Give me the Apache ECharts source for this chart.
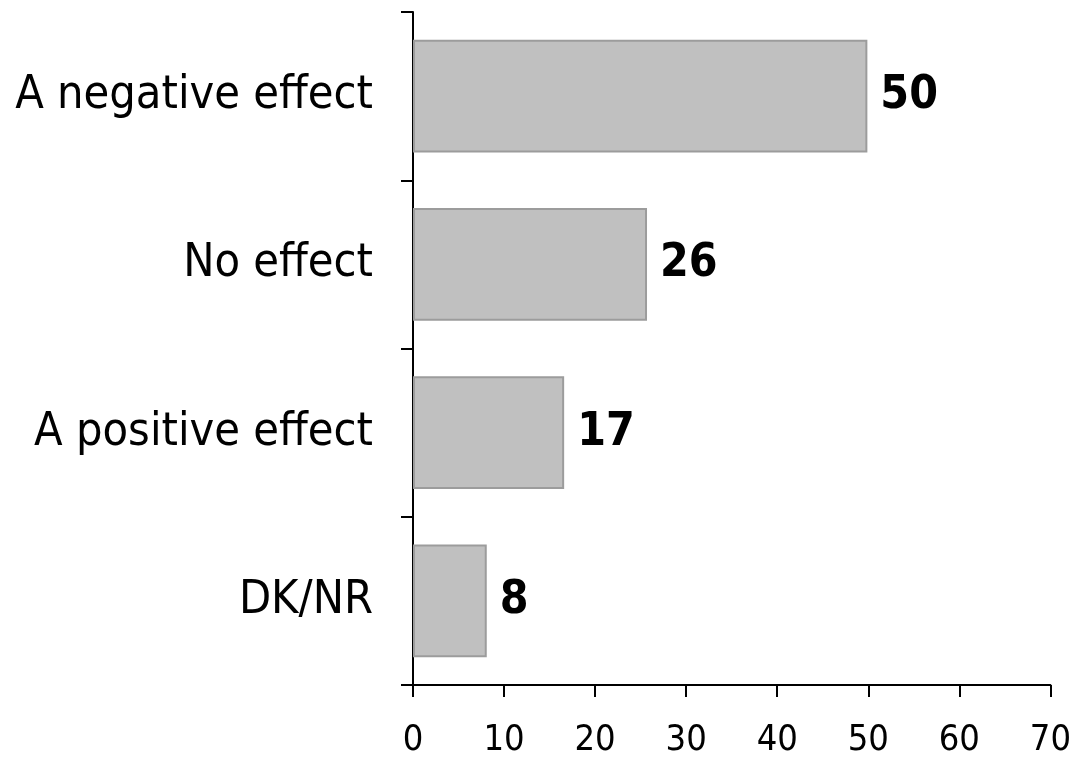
<!DOCTYPE html>
<html>
<head>
<meta charset="utf-8">
<script src="https://cdn.jsdelivr.net/npm/echarts@6/dist/echarts.min.js"></script>
<style>html,body{margin:0;padding:0;background:#fff}#c{width:1074px;height:759px}</style>
</head>
<body>
<div id="c"></div>
<script>
const categories = ["A negative effect", "No effect", "A positive effect", "DK/NR"];
const values = [49.9, 25.7, 16.6, 8.1];
const xTicks = [0, 10, 20, 30, 40, 50, 60, 70];

const FONT = '"DejaVu Sans Condensed", "DejaVu Sans", sans-serif';
const chart = echarts.init(document.getElementById('c'), null, {renderer: 'canvas'});
chart.setOption({
  animation: false,
  backgroundColor: '#ffffff',
  grid: {left: 413, right: 22, top: 12, bottom: 73, containLabel: false},
  xAxis: {
    type: 'value', min: xTicks[0], max: xTicks[xTicks.length - 1], interval: 10,
    splitLine: {show: false},
    axisLine: {show: true, lineStyle: {color: '#000', width: 2}},
    axisTick: {show: true, length: 12, lineStyle: {color: '#000', width: 2}},
    axisLabel: {color: '#000', fontSize: 36, fontFamily: FONT, margin: 38}
  },
  yAxis: {
    type: 'category', data: categories, inverse: true,
    axisLine: {show: true, lineStyle: {color: '#000', width: 2}},
    axisTick: {show: true, length: 12, lineStyle: {color: '#000', width: 2}},
    axisLabel: {color: '#000', fontSize: 46.5, fontFamily: FONT, margin: 40}
  },
  series: [{
    type: 'bar', data: values, barCategoryGap: '33%',
    itemStyle: {color: '#c0c0c0', borderColor: '#9c9c9c', borderWidth: 2},
    label: {
      show: true, position: 'right', distance: 13, color: '#000',
      fontSize: 46, fontWeight: 'bold', fontFamily: FONT,
      formatter: p => Math.round(p.value)
    }
  }]
});
</script>
</body>
</html>
